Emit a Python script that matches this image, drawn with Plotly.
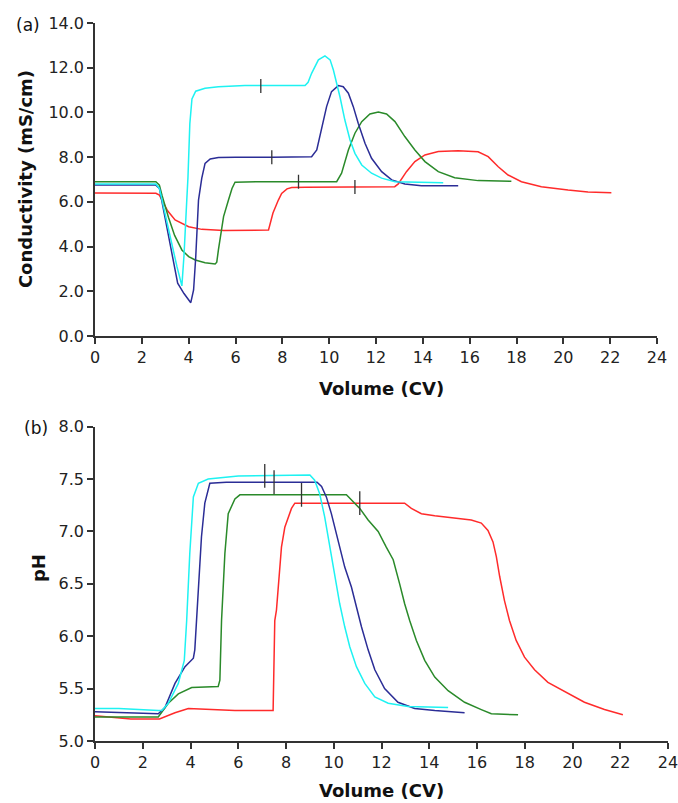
import plotly.graph_objects as go

# ---------------- data: (a) conductivity ----------------
cond_cyan_x = [0, 2.6, 2.75, 2.9, 3.2, 3.5, 3.71, 3.8, 3.92, 3.97, 4.05, 4.14, 4.3, 4.7, 5.27, 6.4, 8.97, 9.1, 9.25, 9.54, 9.82, 10.04, 10.18, 10.32, 10.46, 10.67, 10.89, 11.1, 11.39, 11.81, 12.24, 12.81, 14.87]
cond_cyan_y = [6.8, 6.8, 6.6, 5.9, 4.4, 3.1, 2.24, 3.6, 6.1, 7.1, 9.5, 10.6, 10.95, 11.08, 11.15, 11.2, 11.2, 11.35, 11.75, 12.35, 12.53, 12.35, 11.9, 11.3, 10.7, 9.66, 8.77, 8.17, 7.65, 7.28, 7.06, 6.9, 6.86]

cond_blue_x = [0, 2.6, 2.75, 2.86, 3.2, 3.53, 3.8, 4.09, 4.21, 4.3, 4.42, 4.56, 4.7, 4.92, 5.27, 6.0, 7.55, 9.25, 9.47, 9.68, 9.89, 10.1, 10.39, 10.6, 10.82, 11.03, 11.24, 11.53, 11.81, 12.24, 12.67, 13.23, 13.94, 15.51]
cond_blue_y = [6.75, 6.75, 6.6, 6.0, 4.1, 2.36, 1.9, 1.49, 2.06, 3.5, 6.08, 7.06, 7.72, 7.92, 7.98, 8.0, 8.0, 8.02, 8.32, 9.22, 10.26, 10.93, 11.2, 11.15, 10.86, 10.26, 9.52, 8.62, 7.95, 7.35, 6.98, 6.8, 6.72, 6.72]

cond_green_x = [0, 2.6, 2.75, 2.86, 3.14, 3.4, 3.71, 4.0, 4.28, 4.7, 5.13, 5.2, 5.27, 5.49, 5.7, 5.85, 5.98, 7.0, 10.32, 10.53, 10.82, 11.1, 11.39, 11.74, 12.1, 12.45, 12.81, 13.23, 13.66, 14.09, 14.66, 15.36, 16.36, 17.78]
cond_green_y = [6.9, 6.9, 6.75, 6.3, 5.3, 4.5, 3.85, 3.55, 3.4, 3.28, 3.22, 3.3, 3.85, 5.34, 6.08, 6.6, 6.88, 6.9, 6.9, 7.28, 8.32, 9.07, 9.59, 9.93, 10.02, 9.93, 9.59, 8.92, 8.32, 7.8, 7.35, 7.08, 6.95, 6.92]

cond_red_x = [0, 2.6, 2.75, 2.86, 3.1, 3.42, 4.0, 4.56, 5.5, 7.41, 7.6, 7.83, 7.97, 8.2, 8.4, 9.0, 11.1, 12.8, 12.95, 13.3, 13.66, 14.09, 14.66, 15.51, 16.36, 16.79, 17.22, 17.64, 18.21, 19.06, 20.2, 21.05, 22.05]
cond_red_y = [6.4, 6.38, 6.3, 6.08, 5.6, 5.19, 4.89, 4.77, 4.72, 4.74, 5.5, 6.08, 6.38, 6.58, 6.64, 6.65, 6.66, 6.68, 6.8, 7.35, 7.8, 8.1, 8.25, 8.29, 8.24, 8.02, 7.57, 7.2, 6.9, 6.68, 6.53, 6.44, 6.41]

cond_mark_x = [7.08, 7.55, 8.69, 11.1]
cond_mark_y = [11.18, 8.0, 6.9, 6.66]

# ---------------- data: (b) pH ----------------
ph_cyan_x = [0, 1.0, 2.65, 2.8, 3.07, 3.49, 3.74, 3.84, 3.97, 4.12, 4.33, 4.74, 6.0, 9.0, 9.2, 9.41, 9.62, 9.83, 10.04, 10.25, 10.46, 10.67, 10.95, 11.3, 11.72, 12.28, 13.11, 14.79]
ph_cyan_y = [5.31, 5.31, 5.29, 5.29, 5.36, 5.55, 5.77, 6.15, 6.79, 7.33, 7.46, 7.5, 7.53, 7.54, 7.49, 7.36, 7.14, 6.85, 6.57, 6.31, 6.09, 5.9, 5.71, 5.55, 5.42, 5.36, 5.33, 5.32]

ph_blue_x = [0, 1.0, 2.0, 2.65, 2.93, 3.35, 3.77, 4.12, 4.18, 4.33, 4.46, 4.6, 4.81, 5.5, 9.3, 9.49, 9.69, 9.9, 10.18, 10.46, 10.74, 10.95, 11.16, 11.44, 11.72, 12.13, 12.69, 13.39, 14.23, 15.48]
ph_blue_y = [5.28, 5.27, 5.26, 5.26, 5.32, 5.55, 5.71, 5.79, 5.87, 6.47, 6.95, 7.27, 7.46, 7.47, 7.47, 7.43, 7.33, 7.17, 6.92, 6.66, 6.47, 6.28, 6.09, 5.87, 5.68, 5.5, 5.37, 5.31, 5.29, 5.27]

ph_green_x = [0, 2.65, 3.07, 3.49, 4.05, 5.16, 5.23, 5.3, 5.44, 5.58, 5.86, 6.07, 10.53, 10.74, 11.09, 11.44, 11.86, 12.2, 12.49, 12.76, 12.97, 13.18, 13.46, 13.81, 14.23, 14.79, 15.48, 16.18, 16.6, 17.72]
ph_green_y = [5.23, 5.23, 5.36, 5.45, 5.51, 5.52, 5.58, 6.15, 6.79, 7.17, 7.31, 7.35, 7.35, 7.3, 7.22, 7.11, 7.0, 6.85, 6.73, 6.5, 6.31, 6.15, 5.96, 5.77, 5.61, 5.48, 5.37, 5.3, 5.26, 5.25]

ph_red_x = [0, 0.5, 1.5, 2.7, 3.35, 3.91, 5.86, 7.46, 7.53, 7.6, 7.81, 7.95, 8.23, 8.37, 12.97, 13.25, 13.67, 14.23, 15.06, 15.76, 16.18, 16.46, 16.67, 16.81, 16.95, 17.15, 17.36, 17.64, 17.99, 18.41, 18.97, 19.67, 20.5, 21.34, 22.11]
ph_red_y = [5.24, 5.23, 5.21, 5.21, 5.27, 5.31, 5.29, 5.29, 6.15, 6.25, 6.85, 7.04, 7.22, 7.27, 7.27, 7.22, 7.17, 7.15, 7.13, 7.11, 7.08, 7.01, 6.9, 6.76, 6.57, 6.34, 6.15, 5.96, 5.8, 5.68, 5.56, 5.47, 5.37, 5.3, 5.25]

ph_mark_x = [7.11, 7.5, 8.65, 11.09]
ph_mark_y = [7.53, 7.47, 7.35, 7.27]

x_ticks = list(range(0, 25, 2))
cond_ticks = [0, 2, 4, 6, 8, 10, 12, 14]
ph_ticks = [5.0, 5.5, 6.0, 6.5, 7.0, 7.5, 8.0]

CYAN = "#1EF2F2"
BLUE = "#2B2D96"
GREEN = "#2A8A2A"
RED = "#FF2B2B"
AX = "#333333"

fig = go.Figure()

def add_line(x, y, color, xa, ya):
    fig.add_trace(go.Scatter(x=x, y=y, mode="lines", line=dict(color=color, width=1.5),
                             xaxis=xa, yaxis=ya, showlegend=False, hoverinfo="skip"))

add_line(cond_red_x, cond_red_y, RED, "x", "y")
add_line(cond_green_x, cond_green_y, GREEN, "x", "y")
add_line(cond_blue_x, cond_blue_y, BLUE, "x", "y")
add_line(cond_cyan_x, cond_cyan_y, CYAN, "x", "y")
fig.add_trace(go.Scatter(x=cond_mark_x, y=cond_mark_y, mode="markers", xaxis="x", yaxis="y",
                         marker=dict(symbol="line-ns", size=10, line=dict(color=AX, width=1.3)),
                         showlegend=False, hoverinfo="skip"))

add_line(ph_red_x, ph_red_y, RED, "x2", "y2")
add_line(ph_green_x, ph_green_y, GREEN, "x2", "y2")
add_line(ph_blue_x, ph_blue_y, BLUE, "x2", "y2")
add_line(ph_cyan_x, ph_cyan_y, CYAN, "x2", "y2")
fig.add_trace(go.Scatter(x=ph_mark_x, y=ph_mark_y, mode="markers", xaxis="x2", yaxis="y2",
                         marker=dict(symbol="line-ns", size=17, line=dict(color=AX, width=1.3)),
                         showlegend=False, hoverinfo="skip"))

tickfont = dict(family="DejaVu Sans", size=16, color="#222222")
common = dict(showline=True, linecolor=AX, linewidth=1.5, ticks="outside", ticklen=6,
              tickwidth=1.5, tickcolor=AX, showgrid=False, zeroline=False, tickfont=tickfont)

# horizontal scale factor between layout pixels and the captured picture
SX = 689 / 678
W, H = 689, 803
L = 93 * SX
R = W - 667 * SX
T, B = 23, 62
pw = W - L - R
ph = H - T - B

def fx(px):
    return (px * SX - L) / pw

def fy(py):
    return (H - B - py) / ph

fig.update_layout(
    width=W, height=H,
    margin=dict(l=L, r=R, t=T, b=B),
    paper_bgcolor="white", plot_bgcolor="white",
    xaxis=dict(domain=[0, fx(656)], range=[0, 24], tickvals=x_ticks, anchor="y", **common),
    yaxis=dict(domain=[fy(336), 1], range=[0, 14], tickvals=cond_ticks, tickformat=".1f", anchor="x", **common),
    xaxis2=dict(domain=[0, 1], range=[0, 24], tickvals=x_ticks, anchor="y2", **common),
    yaxis2=dict(domain=[0, fy(426.7)], range=[5, 8], tickvals=ph_ticks, tickformat=".1f", anchor="x2", **common),
)

titlefont = dict(family="DejaVu Sans", size=18, color="#111111")
ann = [
    dict(text="<b>Volume (CV)</b>", x=fx(380), y=fy(388), font=titlefont),
    dict(text="<b>Volume (CV)</b>", x=fx(380), y=fy(790), font=titlefont),
    dict(text="<b>Conductivity (mS/cm)</b>", x=fx(23), y=fy(179), font=titlefont, textangle=-90),
    dict(text="<b>pH</b>", x=fx(36), y=fy(568), font=titlefont, textangle=-90),
    dict(text="(a)", x=fx(25.5), y=fy(25), font=dict(family="DejaVu Sans", size=17, color="#111111")),
    dict(text="(b)", x=fx(33.5), y=fy(428), font=dict(family="DejaVu Sans", size=17, color="#111111")),
]
for a in ann:
    a.update(xref="paper", yref="paper", showarrow=False, xanchor="center", yanchor="middle")
fig.update_layout(annotations=ann)

fig.write_html("out.html", config={"displayModeBar": False},
               post_script="document.body.style.margin='0';document.body.style.overflow='hidden';")
